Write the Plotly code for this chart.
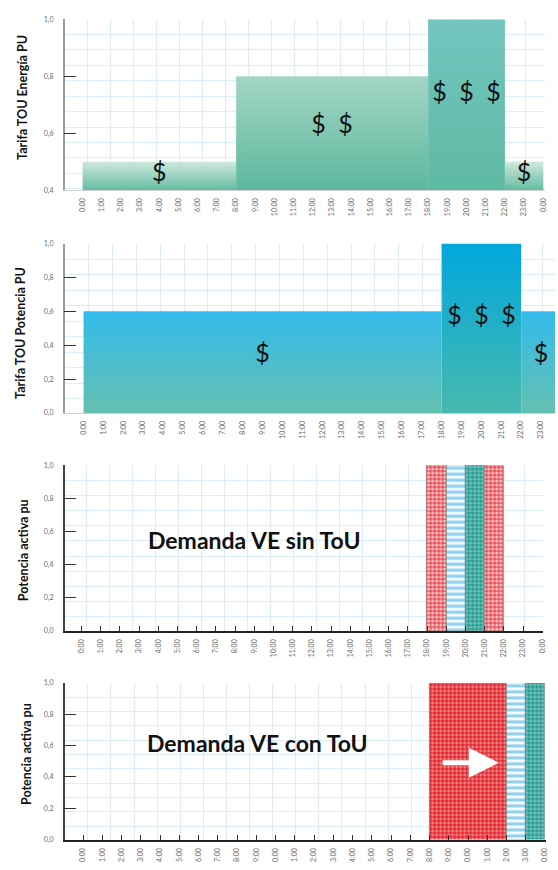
import plotly.graph_objects as go

# ---------------- data ----------------
# Energy time-of-use tariff (per unit), piecewise by hour
energy_start = [0, 8, 18, 22]
energy_end = [8, 18, 22, 24]
energy_value = [0.5, 0.8, 1.0, 0.5]
energy_label = ["$", "$\u2002$", "$\u2002$\u2002$", "$"]

# Power time-of-use tariff (per unit)
power_start = [0, 18, 22]
power_end = [18, 22, 24]
power_value = [0.6, 1.0, 0.6]
power_label = ["$", "$\u2002$\u2002$", "$"]

# EV demand without ToU: one block per hour
sin_start = [18, 19, 20, 21]
sin_end = [19, 20, 21, 22]
sin_value = [1.0, 1.0, 1.0, 1.0]
sin_kind = ["red", "blue", "teal", "red"]

# EV demand with ToU: charging shifted later
con_start = [18, 22, 23]
con_end = [22, 23, 24]
con_value = [1.0, 1.0, 1.0]
con_kind = ["red_dense", "blue", "teal"]

hour_labels_24 = ["0:00", "1:00", "2:00", "3:00", "4:00", "5:00", "6:00", "7:00",
                  "8:00", "9:00", "10:00", "11:00", "12:00", "13:00", "14:00", "15:00",
                  "16:00", "17:00", "18:00", "19:00", "20:00", "21:00", "22:00", "23:00"]
hour_labels_25 = hour_labels_24 + ["0:00"]
hour_labels_cut = ["0:00", "1:00", "2:00", "3:00", "4:00", "5:00", "6:00", "7:00",
                   "8:00", "9:00", "0:00", "1:00", "2:00", "3:00", "4:00", "5:00",
                   "6:00", "7:00", "8:00", "9:00", "0:00", "1:00", "2:00", "3:00", "0:00"]

y_ticks_energy = [0.4, 0.6, 0.8, 1.0]
y_ticks_full = [0.0, 0.2, 0.4, 0.6, 0.8, 1.0]

# ---------------- styles ----------------
energy_grad = [("#5db89e", "#c9e6d9"), ("#5bb89c", "#a3d5c6"),
               ("#5eb9a2", "#73c5bf"), ("#5db89e", "#c9e6d9")]
power_grad = [("#66c0b0", "#33bbea"), ("#48b9ae", "#00a7dc"), ("#66c0b0", "#33bbea")]

hatch = {
    "red": dict(shape="+", fg="#e3141d", bg="#f8cfd0", size=4, sol=0.4),
    "red_dense": dict(shape="+", fg="#e3121b", bg="#f0878b", size=4, sol=0.5),
    "blue": dict(shape="-", fg="#8fd0ee", bg="#f4fbfe", size=6, sol=0.5),
    "teal": dict(shape="+", fg="#e6f5f3", bg="#1f9a90", size=4, sol=0.22),
}

W, H = 558, 870
FONT = "Lato"
GRID = "#d9eef8"
LEFT = 65 / W

fig = go.Figure()


def blocks(starts, ends, values, base, grads, xa, ya):
    for s, e, v, (c0, c1) in zip(starts, ends, values, grads):
        fig.add_trace(go.Scatter(
            x=[s, s, e, e, s], y=[base, v, v, base, base],
            mode="lines", line=dict(width=0), fill="toself",
            fillgradient=dict(type="vertical", colorscale=[[0, c0], [1, c1]],
                              start=base, stop=v),
            hoverinfo="skip", xaxis=xa, yaxis=ya))


def dollar_text(starts, ends, values, base, labels, xa, ya):
    fig.add_trace(go.Scatter(
        x=[(s + e) / 2 for s, e in zip(starts, ends)],
        y=[base + (v - base) * 0.56 for v in values],
        mode="text", text=labels,
        textfont=dict(family=FONT, size=25, color="#111"),
        hoverinfo="skip", xaxis=xa, yaxis=ya))


def hatched(starts, ends, values, kinds, xa, ya):
    # one bar trace per block so each gets its own fill pattern
    for s, e, v, k in zip(starts, ends, values, kinds):
        d = hatch[k]
        fig.add_trace(go.Bar(
            x=[(s + e) / 2], y=[v], width=[e - s], base=0,
            marker=dict(
                color=d["bg"],
                line=dict(color="#6b6b6b", width=0.6),
                pattern=dict(shape=d["shape"], fgcolor=d["fg"], bgcolor=d["bg"],
                             size=d["size"], solidity=d["sol"], fillmode="replace")),
            hoverinfo="skip", xaxis=xa, yaxis=ya))


blocks(energy_start, energy_end, energy_value, 0.4, energy_grad, "x", "y")
dollar_text(energy_start, energy_end, energy_value, 0.4, energy_label, "x", "y")
blocks(power_start, power_end, power_value, 0.0, power_grad, "x2", "y2")
dollar_text(power_start, power_end, power_value, 0.0, power_label, "x2", "y2")
hatched(sin_start, sin_end, sin_value, sin_kind, "x3", "y3")
hatched(con_start, con_end, con_value, con_kind, "x4", "y4")


def px_y(p):
    return 1 - p / H


def xaxis(domain, rng, labels, line, anchor):
    d = dict(domain=domain, range=rng, anchor=anchor,
             tickmode="array", tickvals=list(range(len(labels))), ticktext=labels,
             tickangle=-90, tickfont=dict(family=FONT, size=7, color="#6a6a6a"),
             showgrid=False, zeroline=False, ticklabelstandoff=4,
             minor=dict(showgrid=True, gridcolor=GRID, gridwidth=1,
                        tickmode="linear", tick0=1.45, dtick=1.2, ticks=""))
    if line:
        d.update(showline=True, linecolor="#222", linewidth=1.5,
                 ticks="inside", ticklen=5, tickcolor="#333", tickwidth=1)
    else:
        d.update(showline=True, linecolor="#d0d0d0", linewidth=1, ticks="")
    return d


def yaxis(domain, rng, vals, step, linecolor, anchor):
    return dict(domain=domain, range=rng, anchor=anchor,
                tickmode="array", tickvals=vals,
                ticktext=[f"{v:.1f}".replace(".", ",") for v in vals],
                tickfont=dict(family=FONT, size=7, color="#6a6a6a"),
                ticks="inside", ticklen=12, tickcolor="#333", tickwidth=1.2,
                ticklabelstandoff=8,
                showline=True, linecolor=linecolor, linewidth=1.5,
                showgrid=False, zeroline=False,
                minor=dict(showgrid=True, gridcolor=GRID, gridwidth=1,
                           tickmode="linear", tick0=1.0, dtick=step, ticks=""))


fig.update_layout(
    width=W, height=H, margin=dict(l=0, r=0, t=0, b=0),
    paper_bgcolor="white", plot_bgcolor="white", showlegend=False,
    xaxis=xaxis([LEFT, 548 / W], [-0.933, 24.09], hour_labels_25, False, "y"),
    yaxis=yaxis([px_y(187.3), px_y(14.3)], [0.4, 1.0], y_ticks_energy, 0.054, "#9a9a9a", "x"),
    xaxis2=xaxis([LEFT, 1.0], [-0.95, 23.7], hour_labels_24, False, "y2"),
    yaxis2=yaxis([px_y(412.3), px_y(241)], [0.0, 1.0], y_ticks_full, 0.0915, "#9a9a9a", "x2"),
    xaxis3=xaxis([LEFT, 546 / W], [-0.881, 24.04], hour_labels_25, True, "y3"),
    yaxis3=yaxis([px_y(632.3), px_y(465)], [0.0, 1.0], y_ticks_full, 0.0915, "#444", "x3"),
    xaxis4=xaxis([LEFT, 549 / W], [-0.956, 24.05], hour_labels_cut, True, "y4"),
    yaxis4=yaxis([px_y(843.3), px_y(685)], [0.0, 1.0], y_ticks_full, 0.0915, "#444", "x4"),
    bargap=0, barmode="overlay",
)

# axis titles
titles = [("Tarifa TOU Energía PU", 22, 93),
          ("Tarifa TOU Potencia PU", 20.5, 331),
          ("Potencia activa pu", 23, 551),
          ("Potencia activa pu", 26, 757)]
for txt, xp, yp in titles:
    fig.add_annotation(text=txt, xref="paper", yref="paper", x=xp / W, y=px_y(yp),
                       textangle=-90, showarrow=False, xanchor="center", yanchor="middle",
                       font=dict(family=FONT, size=12.5, color="#111", weight=700))

# panel captions
fig.add_annotation(text="Demanda VE sin ToU", xref="paper", yref="paper",
                   x=256 / W, y=px_y(541), showarrow=False,
                   font=dict(family=FONT, size=23, color="#111", weight=700))
fig.add_annotation(text="Demanda VE con ToU", xref="paper", yref="paper",
                   x=259 / W, y=px_y(762), showarrow=False,
                   font=dict(family=FONT, size=23, color="#111", weight=700))

# white arrow showing the shift of charging
fig.add_annotation(x=21.6, y=0.49, ax=18.6, ay=0.49, xref="x4", yref="y4",
                   axref="x4", ayref="y4", text="", showarrow=True,
                   arrowhead=2, arrowsize=1.2, arrowwidth=5, arrowcolor="white")

fig.write_html("out.html")
